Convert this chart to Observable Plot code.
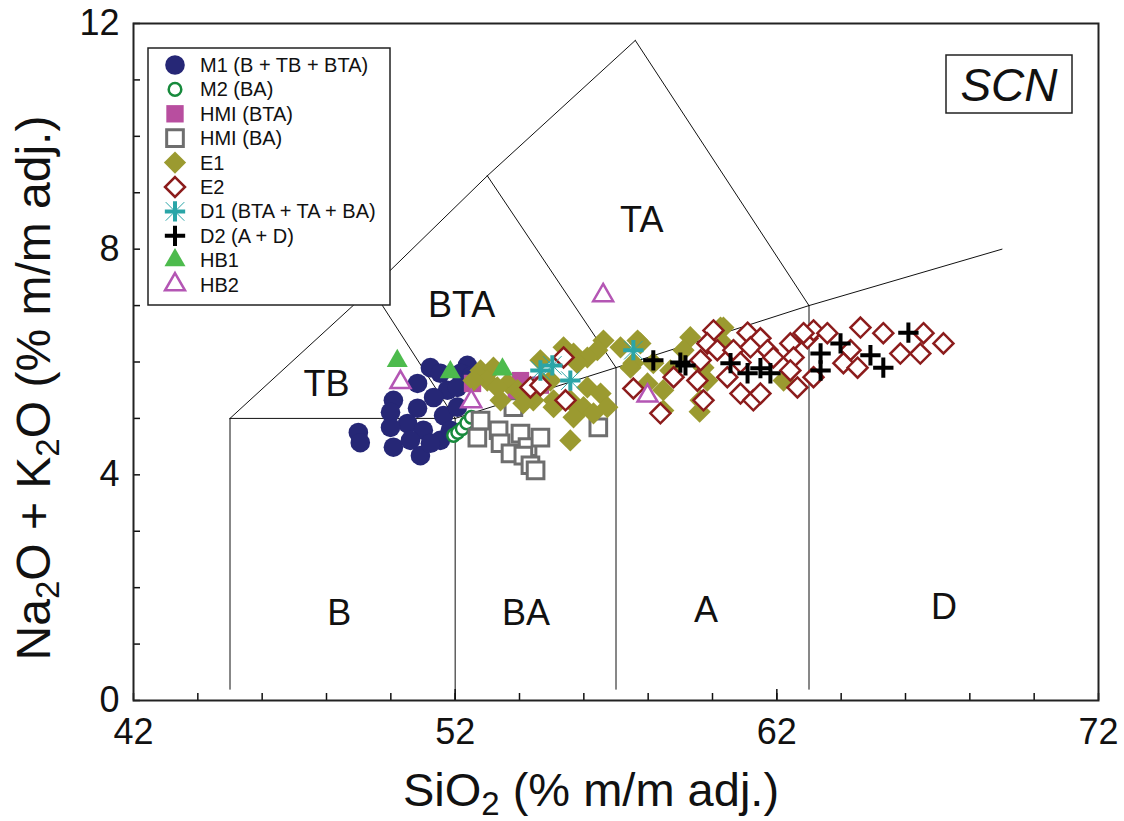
<!DOCTYPE html>
<html><head><meta charset="utf-8">
<script src="https://cdn.jsdelivr.net/npm/d3@7"></script>
<script src="https://cdn.jsdelivr.net/npm/@observablehq/plot@0.6"></script>
<style>
body{margin:0;background:#fff;}
svg{font-family:"Liberation Sans",Arial,sans-serif;}
</style>
</head><body><div id="chart"></div>
<script>
const FONT = '"Liberation Sans", Arial, sans-serif';

// ---- data (SiO2, Na2O+K2O) ----
const M1 = [[48.99,4.75],[49.05,4.57],[50.08,4.49],[50.92,4.34],[50.83,5.62],[51.23,5.90],[51.54,5.80],[52.38,5.94],
  [50.08,5.32],[49.99,5.11],[50.83,5.18],[50.52,4.91],[51.01,4.79],[51.54,4.61],[51.64,5.05],[51.76,5.50],
  [51.33,5.37],[49.99,4.84],[51.85,4.79],[51.23,4.56],[52.07,5.20],[52.17,5.80],[50.61,4.61],[52.07,5.55],[52.5,5.75]];
const M2 = [[51.95,4.70],[52.08,4.75],[52.22,4.82],[52.36,4.92],[52.5,5.02]];
const HMI_BTA = [[52.54,5.62],[54.03,5.67],[54.65,5.59],[54.34,5.41],[53.9,5.5]];
const HMI_BA = [[52.79,4.96],[52.69,4.66],[53.35,4.79],[53.41,4.56],[53.81,5.20],[54.03,4.73],[54.25,4.49],
  [54.65,4.66],[53.72,4.38],[54.12,4.34],[54.34,4.17],[54.5,4.08],[56.45,4.84]];
const E1 = [[52.79,5.85],[53.19,5.90],[53.0,5.67],[52.57,5.67],[53.63,5.62],[53.41,5.32],[53.31,5.55],[53.94,5.50],
  [54.65,6.03],[55.37,6.26],[55.68,6.15],[54.43,5.32],[55.06,5.32],[55.58,4.61],[54.74,5.62],[54.12,5.27],
  [56.61,6.38],[56.42,6.21],[56.11,6.08],[55.80,5.98],[54.96,5.67],[56.11,5.55],[56.52,5.44],[55.58,5.32],
  [55.99,5.20],[56.30,5.09],[56.73,5.20],[55.06,5.20],[55.68,5.02],[57.14,6.26],[57.67,6.38],[57.54,5.98],
  [57.76,6.33],[57.45,5.90],[57.98,5.62],[58.47,5.50],[58.69,5.85],[59.31,6.44],[59.10,6.21],[59.72,5.90],
  [60.25,6.61],[59.63,5.32],[58.47,5.14],[59.84,5.67],[58.16,5.98],[60.34,6.61],[62.21,5.67],[60.34,6.33],[59.6,5.12]];
const E2 = [[55.37,6.08],[54.34,5.55],[54.65,5.59],[55.43,5.32],[57.54,5.53],[58.38,5.09],[58.79,5.73],[59.53,5.67],
  [59.72,5.32],[60.03,6.56],[59.84,6.33],[59.63,6.03],[60.15,6.21],[60.65,6.21],[61.09,6.52],[61.49,6.42],
  [61.18,6.26],[60.87,5.99],[61.71,6.21],[60.46,5.73],[60.87,5.44],[61.27,5.32],[61.49,5.44],[61.89,6.08],
  [62.42,6.33],[62.95,6.42],[63.14,6.56],[62.52,6.08],[62.42,5.85],[62.64,5.55],[63.57,6.51],[64.60,6.61],
  [64.29,6.21],[64.07,5.98],[64.51,5.90],[65.31,6.51],[65.84,6.15],[66.56,6.51],[66.46,6.15],[67.18,6.33],
  [63.14,5.73],[62.83,6.51]];
const D1 = [[54.65,5.85],[55.02,5.94],[55.58,5.67],[57.54,6.21]];
const D2 = [[58.16,6.03],[59.0,5.99],[59.16,5.94],[60.56,5.98],[61.09,5.80],[61.49,5.89],[61.80,5.80],
  [63.36,6.15],[63.36,5.85],[63.98,6.33],[64.91,6.12],[65.31,5.90],[66.09,6.52]];
const HB1 = [[50.2,6.02],[51.85,5.82],[53.47,5.87]];
const HB2 = [[50.3,5.64],[52.5,5.3],[56.6,7.18],[57.98,5.4]];

const seriesNames = ["M1 (B + TB + BTA)","M2 (BA)","HMI (BTA)","HMI (BA)","E1","E2","D1 (BTA + TA + BA)","D2 (A + D)","HB1","HB2"];

// TAS field boundaries
const boundaries = [
  [[45,0.2],[45,5]], [[45,5],[52,5]], [[52,0],[52,5]], [[52,5],[57,5.9]], [[57,0.2],[57,5.9]],
  [[57,5.9],[63,7]], [[63,0.2],[63,7]], [[63,7],[69,8]], [[45,5],[49.4,7.3]], [[49.4,7.3],[52,5]],
  [[49.4,7.3],[53,9.3]], [[53,9.3],[57,5.9]], [[53,9.3],[57.6,11.7]], [[57.6,11.7],[63,7]]
];
const fieldNames = ["B","BA","A","D","TB","BTA","TA"];
const fieldX = [48.4,54.2,59.8,67.2,48.0,52.2,57.8];
const fieldY = [1.55,1.55,1.6,1.65,5.6,7.0,8.5];

const xLabelTicks = [42,52,62,72];
const xMinorTicks = [42,44,46,48,50,52,54,56,58,60,62,64,66,68,70,72];
const xLongTicks = [52,62];
const yLabelTicks = [0,4,8,12];
const yMinorTicks = [0,1,2,3,4,5,6,7,8,9,10,11,12];

// ---- styles ----
const styles = {
  "M1 (B + TB + BTA)": [{symbol:"circle", r:9.8, fill:"#262776"}],
  "M2 (BA)": [{symbol:"circle", r:6.3, fill:"white", stroke:"#178a3c", strokeWidth:2.5}],
  "HMI (BTA)": [{symbol:"square", r:9.8, fill:"#b84e9f"}],
  "HMI (BA)": [{symbol:"square", r:9.4, fill:"white", stroke:"#6e6e6e", strokeWidth:3}],
  "E1": [{symbol:"diamond2", r:10, fill:"#9b9a30"}],
  "E2": [{symbol:"diamond2", r:9, fill:"white", stroke:"#8c1c1c", strokeWidth:2.5}],
  "D1 (BTA + TA + BA)": [{symbol:"times", r:8.5, fill:"none", stroke:"#2aa5a7", strokeWidth:1},
                         {symbol:"plus", r:6.6, fill:"none", stroke:"#2aa5a7", strokeWidth:4}],
  "D2 (A + D)": [{symbol:"plus", r:6.6, fill:"none", stroke:"#000", strokeWidth:4}],
  "HB1": [{symbol:"triangle", r:7.8, fill:"#4dbb4d"}],
  "HB2": [{symbol:"triangle", r:7.4, fill:"white", stroke:"#b456b4", strokeWidth:2.5}]
};
const seriesData = [M1, M2, HMI_BTA, HMI_BA, E1, E2, D1, D2, HB1, HB2];
const drawOrder = [0, 1, 3, 2, 4, 5, 6, 7, 8, 9];

const boundaryRows = boundaries.flatMap((seg, i) => seg.map(([x, y]) => ({seg: i, x, y})));
const fields = fieldNames.map((t, i) => ({t, x: fieldX[i], y: fieldY[i]}));

const dotMarks = [];
for (const i of drawOrder) {
  for (const st of styles[seriesNames[i]]) {
    dotMarks.push(Plot.dot(seriesData[i], {x: d => d[0], y: d => d[1], ...st}));
  }
}

const svg = Plot.plot({
  width: 1124, height: 821,
  marginLeft: 133, marginRight: 26, marginTop: 23, marginBottom: 121,
  style: {fontFamily: FONT, background: "white", color: "#111"},
  x: {domain: [42, 72], axis: null},
  y: {domain: [0, 12], axis: null},
  marks: [
    Plot.line(boundaryRows, {x: "x", y: "y", z: "seg", stroke: "#111", strokeWidth: 1}),
    Plot.text(fields, {x: "x", y: "y", text: "t", fontSize: 36, fill: "#111"}),
    ...dotMarks,
    Plot.axisX({ticks: xMinorTicks, tickSize: -7, tickFormat: () => "", strokeWidth: 1.5, label: null}),
    Plot.axisX({ticks: xLongTicks, tickSize: -11, tickFormat: () => "", strokeWidth: 1.5, label: null}),
    Plot.axisX({ticks: xLabelTicks, tickSize: 0, tickPadding: 18, fontSize: 36, label: null}),
    Plot.axisY({ticks: yMinorTicks, tickSize: -7, tickFormat: () => "", strokeWidth: 1.5, label: null}),
    Plot.axisY({ticks: yLabelTicks, tickSize: 0, tickPadding: 14, fontSize: 36, label: null}),
    Plot.frame({stroke: "#222", strokeWidth: 2})
  ]
});
document.getElementById("chart").appendChild(svg);

const s = d3.select(svg);
// x-axis title
const xt = s.append("text").attr("x", 591).attr("y", 806).attr("text-anchor", "middle")
  .attr("font-size", 47).attr("fill", "#111");
xt.append("tspan").text("SiO");
xt.append("tspan").attr("font-size", 33).attr("dy", 9).text("2");
xt.append("tspan").attr("dy", -9).text(" (% m/m adj.)");
// y-axis title
const yt = s.append("text").attr("transform", "translate(50,388) rotate(-90)").attr("text-anchor", "middle")
  .attr("font-size", 48).attr("fill", "#111");
yt.append("tspan").text("Na");
yt.append("tspan").attr("font-size", 33).attr("dy", 9).text("2");
yt.append("tspan").attr("dy", -9).text("O + K");
yt.append("tspan").attr("font-size", 33).attr("dy", 9).text("2");
yt.append("tspan").attr("dy", -9).text("O (% m/m adj.)");

// SCN box
s.append("rect").attr("x", 946).attr("y", 55).attr("width", 126).attr("height", 58)
  .attr("fill", "white").attr("stroke", "#222").attr("stroke-width", 1.5);
s.append("text").attr("x", 1009).attr("y", 101).attr("text-anchor", "middle")
  .attr("font-size", 46).attr("font-style", "italic").attr("fill", "#111").text("SCN");

// legend
const symMap = {circle: d3.symbolCircle, square: d3.symbolSquare, diamond2: d3.symbolDiamond2,
  times: d3.symbolTimes, plus: d3.symbolPlus, triangle: d3.symbolTriangle};
const lg = s.append("g").attr("transform", "translate(148,48)");
lg.append("rect").attr("width", 242).attr("height", 257).attr("fill", "white")
  .attr("stroke", "#222").attr("stroke-width", 1.5);
seriesNames.forEach((name, i) => {
  const cy = 17 + i * 24.4;
  for (const st of styles[name]) {
    lg.append("path")
      .attr("transform", `translate(27,${cy})`)
      .attr("d", d3.symbol(symMap[st.symbol], st.r * st.r * Math.PI)())
      .attr("fill", st.fill || "none")
      .attr("stroke", st.stroke || "none")
      .attr("stroke-width", st.strokeWidth || 0);
  }
  lg.append("text").attr("x", 52).attr("y", cy).attr("dy", "0.35em")
    .attr("text-anchor", "start")
    .attr("font-size", 20).attr("fill", "#111").text(name);
});
</script>
</body></html>
